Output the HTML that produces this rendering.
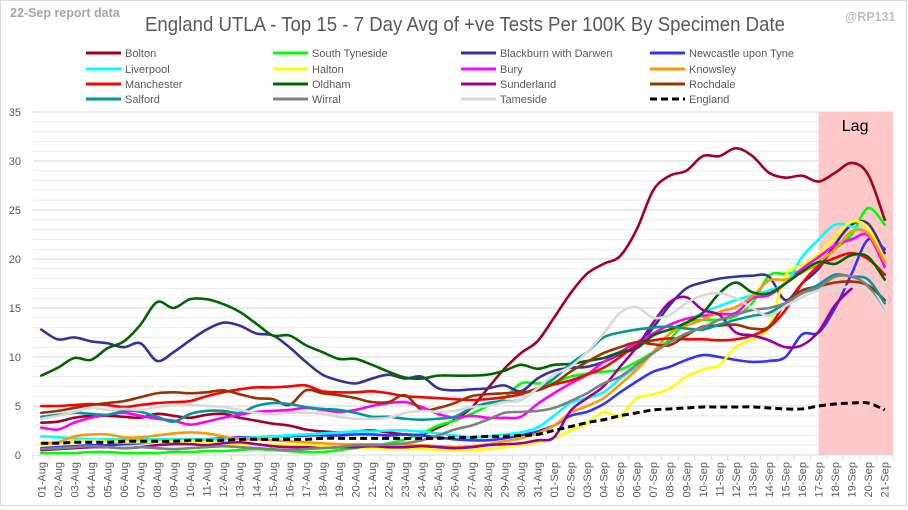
<!DOCTYPE html>
<html><head><meta charset="utf-8"><style>
body{margin:0;background:#fff;}
svg{display:block;font-family:"Liberation Sans",sans-serif;}
</style></head><body>
<svg id="chart" width="908" height="510" viewBox="0 0 908 510" xmlns="http://www.w3.org/2000/svg">
<rect x="0.5" y="0.5" width="906" height="505" fill="#fff" stroke="#d9d9d9"/>
<text x="10" y="17" font-size="12.5" font-weight="bold" fill="#a6a6a6">22-Sep report data</text>
<text x="845" y="21" font-size="12.5" font-weight="bold" fill="#bfbfbf">@RP131</text>
<text x="145" y="31" font-size="20" fill="#595959" textLength="640" lengthAdjust="spacingAndGlyphs">England UTLA - Top 15 - 7 Day Avg of +ve Tests Per 100K By Specimen Date</text>
<g id="grid"></g>
<rect id="lag" fill="#ffc9c9"/>
<text id="lagtxt" font-size="16" fill="#000">Lag</text>
<g id="axes"></g>
<g id="series"></g>
<g id="legend"></g>
</svg>
<script>
const categories = ["01-Aug","02-Aug","03-Aug","04-Aug","05-Aug","06-Aug","07-Aug","08-Aug","09-Aug","10-Aug","11-Aug","12-Aug","13-Aug","14-Aug","15-Aug","16-Aug","17-Aug","18-Aug","19-Aug","20-Aug","21-Aug","22-Aug","23-Aug","24-Aug","25-Aug","26-Aug","27-Aug","28-Aug","29-Aug","30-Aug","31-Aug","01-Sep","02-Sep","03-Sep","04-Sep","05-Sep","06-Sep","07-Sep","08-Sep","09-Sep","10-Sep","11-Sep","12-Sep","13-Sep","14-Sep","15-Sep","16-Sep","17-Sep","18-Sep","19-Sep","20-Sep","21-Sep"];
const yTicks = [0,5,10,15,20,25,30,35];
const lagStart = "17-Sep";
const seriesNames = ["Bolton","South Tyneside","Blackburn with Darwen","Newcastle upon Tyne","Liverpool","Halton","Bury","Knowsley","Manchester","Oldham","Sunderland","Rochdale","Salford","Wirral","Tameside","England"];
const seriesColors = ["#a50021","#00ff00","#333399","#3333ff","#00ffff","#ffff00","#ff00ff","#ff9900","#ff0000","#006600","#990099","#993300","#009999","#808080","#d9d9d9","#000000"];
const bolton = [3.3,3.4,3.8,4.0,4.0,3.9,3.8,4.2,4.0,3.8,4.1,4.2,3.8,3.5,3.2,3.0,2.6,2.4,2.3,2.4,2.5,2.3,2.1,2.1,2.8,3.6,4.8,6.8,8.8,10.4,11.6,14.0,16.5,18.5,19.5,20.3,23,27,28.5,29,30.5,30.5,31.3,30.5,28.8,28.3,28.5,27.9,28.8,29.8,28.6,24];
const southTyneside = [0.2,0.2,0.2,0.3,0.3,0.2,0.2,0.2,0.3,0.3,0.4,0.4,0.5,0.6,0.5,0.4,0.3,0.3,0.5,0.7,0.9,1.2,1.6,2.2,3.0,3.5,4.2,5.0,5.8,7.3,7.3,7.4,8.0,8.3,8.5,8.7,9.5,10.5,11.8,13.5,13.8,13.8,14.2,15.5,18.3,18.5,18.8,19.5,21.0,22.5,25.2,23.5];
const blackburn = [12.8,11.8,12.0,11.6,11.4,11.0,11.4,9.6,10.5,11.7,12.8,13.5,13.2,12.4,12.2,11,9.5,8.2,7.6,7.3,7.8,8.2,7.8,8.0,6.8,6.6,6.7,6.8,7.1,6.5,7.8,8.6,8.9,9.0,9.5,10.3,11,13,15.3,17,17.6,18.0,18.2,18.3,18.2,15.8,17.5,19,21.5,23.5,23.6,20.6];
const newcastle = [0.7,0.8,0.9,1.0,1.0,1.1,1.2,1.3,1.4,1.5,1.6,1.7,1.8,1.8,1.9,1.9,2.0,2.0,2.0,2.1,2.1,2.0,2.1,2.0,1.8,1.6,1.5,1.5,1.7,2.0,2.4,3.0,4.0,4.4,5.2,6.4,7.5,8.5,9.0,9.7,10.2,10.0,9.7,9.5,9.6,10.0,12.3,12.5,15.0,18.5,22.0,21.0];
const liverpool = [1.9,1.8,1.7,1.6,1.6,1.6,1.6,1.6,1.6,1.6,1.6,1.6,1.7,1.8,1.9,2.0,2.1,2.2,2.3,2.4,2.4,2.5,2.5,2.4,2.2,2.0,1.8,1.9,2.1,2.3,2.8,4.0,5.3,5.8,6.4,7.8,9.0,10.5,12.4,13.5,14.5,15.2,15.8,16.3,16.8,17.5,20.2,22.0,23.5,23.3,22.5,19.6];
const halton = [1.0,1.2,1.4,1.5,1.4,1.3,1.3,1.3,1.4,1.4,1.3,1.2,1.1,1.1,1.1,1.0,1.0,0.9,0.8,0.8,0.7,0.6,0.6,0.6,0.5,0.5,0.5,0.6,0.8,1.0,1.3,1.7,2.5,3.2,4.4,4.0,5.8,6.2,6.8,8.0,8.7,9.2,11.0,11.8,13.1,18.3,19.4,20.5,22.3,23.8,23.2,19.9];
const bury = [2.8,2.6,3.3,3.8,4.1,4.3,4.0,3.7,3.5,3.1,3.4,3.8,4.1,4.4,4.5,4.6,4.8,4.6,4.4,4.6,5.0,5.3,5.4,4.9,4.2,3.8,4.0,3.8,3.8,3.9,5.2,6.3,7.3,8.2,9.5,10.5,11.5,12.4,13.3,13.9,14.2,14.4,14.5,16.0,16.3,17.5,19.0,20.2,21.4,22.0,22.4,19.2];
const knowsley = [1.2,1.3,1.9,2.1,2.1,1.8,1.8,2.0,2.2,2.3,2.2,1.9,1.6,1.6,1.5,1.4,1.3,1.2,1.1,1.1,1.1,1.0,1.0,1.0,0.9,0.8,0.9,1.1,1.4,1.7,2.2,3.0,4.3,5.0,5.8,7.2,8.7,10.5,12.4,13.2,13.8,14.6,15.1,16.2,17.8,17.9,18.6,19.7,21.0,22.8,22.6,19.7];
const manchester = [5.0,5.0,5.1,5.2,5.1,4.9,5.1,5.3,5.4,5.5,6.0,6.4,6.7,6.9,6.9,7.0,7.1,6.5,6.4,6.4,6.5,6.3,6.0,5.9,5.8,5.7,5.6,5.7,5.9,6.2,6.8,7.2,7.6,8.2,8.9,10.0,11.2,11.7,11.9,11.8,11.8,11.7,11.8,12.2,13.0,14.8,17.5,19.3,20.1,20.6,20.0,18.4];
const oldham = [8.1,8.9,9.9,9.7,10.9,11.6,13.3,15.6,15,15.9,15.9,15.4,14.6,13.4,12.2,12.2,11.2,10.5,9.8,9.8,9.2,8.5,7.9,7.8,8.1,8.1,8.1,8.2,8.6,9.2,8.8,9.2,9.3,9.6,9.9,10.5,10.9,12.2,12.8,13.5,14.5,16.5,17.6,16.6,16.5,17.5,18.7,19.7,19.5,20.4,20.2,17.9];
const sunderland = [0.5,0.6,0.7,0.8,0.8,0.7,0.8,1.0,1.1,1.1,1.0,1.2,1.3,1.1,0.9,0.8,0.8,0.7,0.8,0.8,0.9,0.8,0.8,0.9,0.8,0.7,0.8,1.0,1.1,1.2,1.5,1.8,4.5,5.8,7.0,9.0,11.0,13.5,15.6,16.1,14.8,14.3,12.5,12.2,11.7,11.0,11.2,12.6,15.3,17.0,null,null];
const rochdale = [4.3,4.5,4.8,5.1,5.3,5.5,5.9,6.3,6.4,6.3,6.4,6.6,6.2,5.8,5.7,5.1,6.6,6.3,6.1,5.8,5.4,5.4,6.1,4.6,4.8,5.3,6.0,6.2,6.3,6.4,6.6,7.3,8.5,9.5,10.4,11.0,11.5,11.3,11.2,12.2,13.1,13.2,13.3,12.9,13.1,15.5,16.8,17.2,17.6,17.7,17.3,15.8];
const salford = [3.9,4.1,4.3,4.2,4.1,4.5,4.4,3.9,3.4,4.2,4.5,4.5,4.3,5.0,5.3,5.2,4.9,4.7,4.6,4.3,3.9,3.9,3.7,3.6,3.7,3.9,4.8,5.3,5.5,5.6,6.8,7.8,9.3,10.5,12.0,12.5,12.8,13.0,13.1,12.9,12.8,13.3,13.8,14.2,14.5,15.5,16.5,17.4,18.4,18.2,17.9,15.5];
const wirral = [0.6,0.7,0.8,0.9,0.8,0.7,0.8,0.7,0.6,0.7,0.8,0.9,0.8,0.7,0.6,0.5,0.6,0.7,0.8,1.0,1.0,1.1,1.2,1.5,2.0,2.6,3.0,3.6,4.3,4.4,4.5,4.8,5.5,6.3,7.3,8.0,9.2,10.4,11.5,12.4,13.0,13.8,14.3,14.8,15.0,15.5,16.5,17.1,18.2,18.2,17.2,14.5];
const tameside = [3.7,4.0,4.4,4.8,4.6,4.7,4.6,4.9,5.1,5.1,5.0,4.9,4.6,4.3,4.2,4.3,4.3,4.2,3.9,3.7,3.7,3.8,4.3,4.5,4.4,4.5,4.9,5.0,5.4,5.6,6.8,8.2,9.0,10.5,12.4,14.5,15.1,14.0,14.3,15.5,16.3,16.5,16.0,15.0,14.2,15.2,16.1,16.8,17.0,17.2,16.8,14.5];
const england = [1.2,1.2,1.3,1.3,1.3,1.4,1.4,1.4,1.4,1.5,1.5,1.5,1.6,1.6,1.6,1.6,1.6,1.7,1.7,1.7,1.7,1.7,1.7,1.7,1.7,1.8,1.8,1.9,1.9,2.0,2.1,2.5,2.9,3.3,3.6,4.0,4.3,4.6,4.7,4.8,4.9,4.9,4.9,4.9,4.8,4.7,4.7,5.0,5.2,5.3,5.3,4.6];
const seriesValues = [bolton,southTyneside,blackburn,newcastle,liverpool,halton,bury,knowsley,manchester,oldham,sunderland,rochdale,salford,wirral,tameside,england];

const NS="http://www.w3.org/2000/svg";
const PL=33, PR=893, PT=112, PB=455, YMAX=35;
const step=(PR-PL)/categories.length;
function xScale(i){return PL+step*(i+0.5);}
function yScale(v){return PB-(v/YMAX)*(PB-PT);}
function mk(tag,attrs,parent){const e=document.createElementNS(NS,tag);for(const k in attrs)e.setAttribute(k,attrs[k]);parent.appendChild(e);return e;}

const grid=document.getElementById('grid');
for(let v=0;v<=YMAX;v++){
  const l=mk('line',{x1:PL,x2:PR,y1:yScale(v),y2:yScale(v),stroke:(v%5===0)?'#d4d4d4':'#ececec','stroke-width':1},grid);
  
  
}
const li=categories.indexOf(lagStart);
const lag=document.getElementById('lag');
lag.setAttribute('x',xScale(li));lag.setAttribute('y',PT);lag.setAttribute('width',PR-xScale(li));lag.setAttribute('height',PB-PT);
const lt=document.getElementById('lagtxt');
lt.setAttribute('x',(xScale(li)+PR)/2-14);lt.setAttribute('y',PT+19);

const axes=document.getElementById('axes');
const xa=mk('line',{x1:PL,x2:PR,y1:PB,y2:PB,stroke:'#d9d9d9'},axes);


yTicks.forEach(v=>{
  const t=mk('text',{x:21,y:yScale(v)+4,'font-size':11,fill:'#595959','text-anchor':'end'},axes);
  t.textContent=v;
  
  
});
for(let i=0;i<=categories.length;i++){
  const x=PL+step*i;
  const tk=mk('line',{x1:x,x2:x,y1:PB,y2:PB+5,stroke:'#d9d9d9'},axes);
  
  
}
categories.forEach((c,i)=>{
  const x=xScale(i)+4;
  const t=mk('text',{x:x,y:PB+7,'font-size':11,fill:'#595959','text-anchor':'end',transform:`rotate(-90 ${x} ${PB+7})`},axes);
  t.textContent=c;
  
  
});

function smoothPath(vals){
  const segs=[];let cur=[];
  vals.forEach((v,i)=>{if(v===null||v===undefined){if(cur.length)segs.push(cur);cur=[];}else cur.push([xScale(i),yScale(v)]);});
  if(cur.length)segs.push(cur);
  let d='';
  segs.forEach(p=>{
    d+=`M${p[0][0]},${p[0][1]}`;
    for(let i=0;i<p.length-1;i++){
      const p0=p[i-1]||p[i],p1=p[i],p2=p[i+1],p3=p[i+2]||p2;
      const c1x=p1[0]+(p2[0]-p0[0])/6,c1y=p1[1]+(p2[1]-p0[1])/6;
      const c2x=p2[0]-(p3[0]-p1[0])/6,c2y=p2[1]-(p3[1]-p1[1])/6;
      d+=`C${c1x},${c1y} ${c2x},${c2y} ${p2[0]},${p2[1]}`;
    }
  });
  return d;
}
const sg=document.getElementById('series');
seriesValues.forEach((vals,k)=>{
  const isEng=seriesNames[k]==='England';
  const p=mk('path',{d:smoothPath(vals),fill:'none',stroke:seriesColors[k],'stroke-width':isEng?3:2.6,'stroke-linejoin':'round','stroke-linecap':isEng?'butt':'round'},sg);
  if(isEng)p.setAttribute('stroke-dasharray','7,4');
  
  
});

const lg=document.getElementById('legend');
const colX=[86,273,461,650], rowY=[53,69,84,99];
seriesNames.forEach((n,k)=>{
  const r=Math.floor(k/4),c=k%4;
  const isEng=n==='England';
  const g=mk('g',{},lg);
  
  
  const l=mk('line',{x1:colX[c],x2:colX[c]+35,y1:rowY[r],y2:rowY[r],stroke:seriesColors[k],'stroke-width':isEng?3:3},g);
  if(isEng)l.setAttribute('stroke-dasharray','7,4');
  const t=mk('text',{x:colX[c]+39,y:rowY[r]+4,'font-size':11,fill:'#595959'},g);
  t.textContent=n;
});
</script>
</body></html>
